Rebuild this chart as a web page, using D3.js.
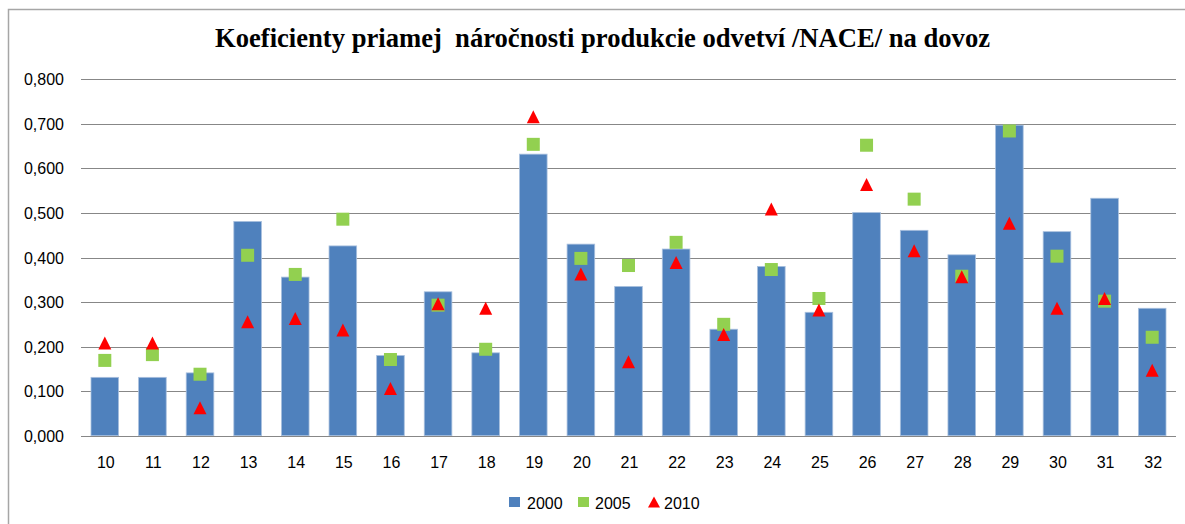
<!DOCTYPE html>
<html>
<head>
<meta charset="utf-8">
<script src="https://cdn.jsdelivr.net/npm/d3@7"></script>
<style>
  body { margin: 0; background: #fff; }
  svg { display: block; }
  .lbl { font-family: "Liberation Sans", Arial, sans-serif; font-size: 16px; fill: #000; }
  .title { font-family: "Liberation Serif", "Times New Roman", serif; font-weight: bold; font-size: 27px; white-space: pre; }
</style>
</head>
<body>
<svg id="chart" width="1185" height="524"></svg>
<script>
// NACE divisions on the x axis
var categories = ["10", "11", "12", "13", "14", "15", "16", "17", "18", "19", "20", "21",
                  "22", "23", "24", "25", "26", "27", "28", "29", "30", "31", "32"];

// coefficients
var values2000 = [0.131, 0.131, 0.141, 0.481, 0.356, 0.426, 0.180, 0.323, 0.186, 0.632, 0.430, 0.335,
                  0.419, 0.239, 0.380, 0.277, 0.501, 0.461, 0.406, 0.697, 0.458, 0.533, 0.286];
var values2005 = [0.169, 0.182, 0.138, 0.405, 0.362, 0.486, 0.171, 0.293, 0.194, 0.654, 0.398, 0.382,
                  0.434, 0.250, 0.373, 0.308, 0.652, 0.531, 0.358, 0.684, 0.403, 0.302, 0.221];
var values2010 = [0.208, 0.208, 0.063, 0.256, 0.263, 0.237, 0.106, 0.296, 0.286, 0.716, 0.363, 0.166,
                  0.389, 0.227, 0.509, 0.282, 0.564, 0.415, 0.357, 0.477, 0.286, 0.308, 0.147];

var yTicks = [0, 0.1, 0.2, 0.3, 0.4, 0.5, 0.6, 0.7, 0.8];
var seriesNames = ["2000", "2005", "2010"];

var svg = d3.select("#chart");

// outer frame of the chart area (right and bottom run off the picture)
svg.append("rect")
  .attr("x", 8.5).attr("y", 9.5)
  .attr("width", 1200).attr("height", 540)
  .attr("fill", "#fff")
  .attr("stroke", "#a6a6a6")
  .attr("stroke-width", 1.5);

var x = d3.scaleBand()
  .domain(categories)
  .range([81, 1176])
  .paddingInner(0.42)
  .paddingOuter(0.21);

var y = d3.scaleLinear()
  .domain([0, 0.8])
  .range([435.7, 79.3]);

var sk = d3.formatLocale({ decimal: ",", thousands: " ", grouping: [3], currency: ["", "€"] });
var fmt = sk.format(".3f");

// gridlines
svg.append("g").selectAll("line")
  .data(yTicks)
  .join("line")
  .attr("x1", 81).attr("x2", 1176)
  .attr("y1", d => Math.round(y(d)) + 0.5)
  .attr("y2", d => Math.round(y(d)) + 0.5)
  .attr("stroke", "#878787")
  .attr("stroke-width", 1);

// y labels
svg.append("g").selectAll("text")
  .data(yTicks)
  .join("text")
  .attr("class", "lbl")
  .attr("x", 64)
  .attr("y", d => y(d) + 6)
  .attr("text-anchor", "end")
  .text(d => fmt(d));

// bars for 2000
svg.append("g").selectAll("rect")
  .data(values2000)
  .join("rect")
  .attr("x", (d, i) => x(categories[i]))
  .attr("y", d => y(d))
  .attr("width", x.bandwidth())
  .attr("height", d => y(0) - y(d))
  .attr("fill", "#4f81bd")
  .attr("stroke", "#a9c0de")
  .attr("stroke-width", 0.8);

// baseline drawn over bars
svg.append("line")
  .attr("x1", 81).attr("x2", 1176)
  .attr("y1", Math.round(y(0)) + 0.5).attr("y2", Math.round(y(0)) + 0.5)
  .attr("stroke", "#878787");

// x labels
svg.append("g").selectAll("text")
  .data(categories)
  .join("text")
  .attr("class", "lbl")
  .attr("x", d => x(d) + x.bandwidth() / 2 + 1)
  .attr("y", 468)
  .attr("text-anchor", "middle")
  .text(d => d);

var cx = i => x(categories[i]) + x.bandwidth() / 2;

// 2005 squares
var sq = 13;
svg.append("g").selectAll("rect")
  .data(values2005)
  .join("rect")
  .attr("x", (d, i) => cx(i) - sq / 2)
  .attr("y", d => y(d) - sq / 2)
  .attr("width", sq).attr("height", sq)
  .attr("fill", "#92d050");

// 2010 triangles
function triangle(w, h) {
  return "M0," + (-h / 2) + "L" + (w / 2) + "," + (h / 2) + "L" + (-w / 2) + "," + (h / 2) + "Z";
}
svg.append("g").selectAll("path")
  .data(values2010)
  .join("path")
  .attr("transform", (d, i) => "translate(" + cx(i) + "," + y(d) + ")")
  .attr("d", triangle(13, 13))
  .attr("fill", "#ff0000");

// title
svg.append("text")
  .attr("class", "title")
  .attr("x", 215).attr("y", 47)
  .attr("textLength", 775)
  .attr("lengthAdjust", "spacingAndGlyphs")
  .text("Koeficienty priamej  náročnosti produkcie odvetví /NACE/ na dovoz");

// legend
var legend = svg.append("g");
legend.append("rect")
  .attr("x", 509).attr("y", 497).attr("width", 11).attr("height", 10)
  .attr("fill", "#4f81bd");
legend.append("rect")
  .attr("x", 578).attr("y", 497).attr("width", 11).attr("height", 10)
  .attr("fill", "#92d050");
legend.append("path")
  .attr("transform", "translate(654,502)")
  .attr("d", triangle(12, 11))
  .attr("fill", "#ff0000");

legend.selectAll("text")
  .data(seriesNames)
  .join("text")
  .attr("class", "lbl")
  .attr("x", (d, i) => [527, 595, 664][i])
  .attr("y", 509)
  .text(d => d);
</script>
</body>
</html>
